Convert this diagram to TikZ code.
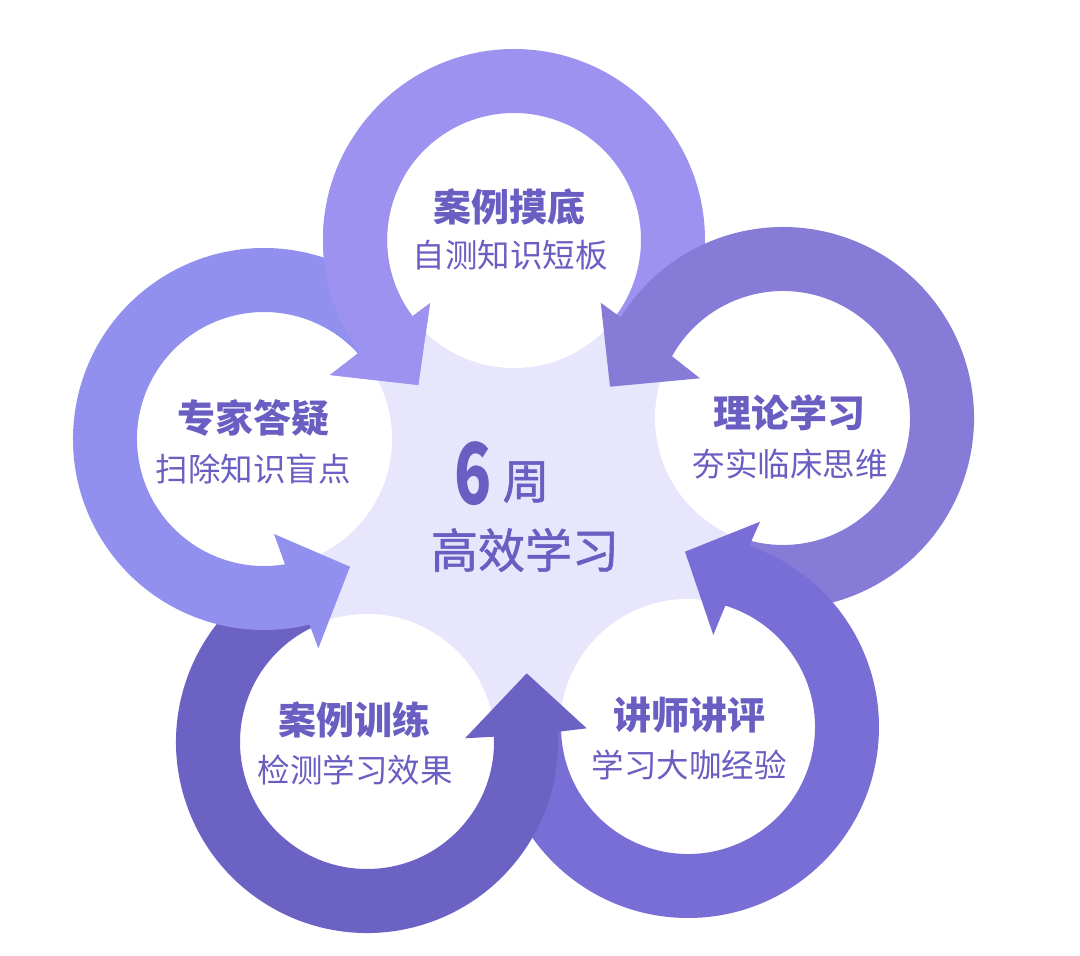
\documentclass[tikz,border=0pt]{standalone}
\usepackage{fontspec}
\newfontfamily\cjk{Noto Sans CJK SC}
\newfontfamily\cjkmid[FakeBold=1.2]{Noto Sans CJK SC}
\definecolor{ringT}{HTML}{9D92EF}
\definecolor{ringR}{HTML}{867BD7}
\definecolor{ringBR}{HTML}{796ED6}
\definecolor{ringBL}{HTML}{6C62C4}
\definecolor{ringL}{HTML}{9290EE}
\definecolor{lav}{HTML}{E8E6FC}
\definecolor{txt}{HTML}{6A5EC2}
\tikzset{
  ttl/.style={font=\cjk\bfseries\fontsize{38}{42}\selectfont, text=txt, inner sep=0pt},
  subt/.style={font=\cjk\fontsize{32.5}{36}\selectfont, text=txt, inner sep=0pt},
  ctr/.style={font=\cjkmid\fontsize{47}{50}\selectfont, text=txt, inner sep=0pt},
  disk/.style={fill=white},
}
\begin{document}
\begin{tikzpicture}[x=1pt,y=1pt]
\useasboundingbox (0,0) rectangle (1080,-956);
\fill[white] (0,0) rectangle (1080,-956);
% centres
\coordinate (C) at (523,-513);
\coordinate (cT) at (514,-240);
\coordinate (cR) at (783,-418);
\coordinate (cBR) at (688,-727);
\coordinate (cBL) at (367,-742);
\coordinate (cL) at (264,-439);
% central lavender field
\fill[lav] (C) circle (250);
% white disks
\foreach \c in {cT,cR,cBR,cBL,cL} \fill[disk] (\c) circle (128);
% head points
\coordinate (Tob) at (330,-375);   \coordinate (Ttp) at (418.3,-385);  \coordinate (Tib) at (430,-303.3);
\coordinate (Rob) at (600.7,-302.7); \coordinate (Rtp) at (610,-386.7); \coordinate (Rib) at (700,-378.3);
\coordinate (BRob) at (760,-521.7); \coordinate (BRtp) at (685,-551.7); \coordinate (BRib) at (713.3,-635);
\coordinate (BLob) at (586.7,-728.3); \coordinate (BLtp) at (526.7,-673.3); \coordinate (BLib) at (465,-738.3);
\coordinate (Lob) at (318.3,-648.3); \coordinate (Ltp) at (350,-566.7); \coordinate (Lib) at (274,-534);
% top ring
\fill[ringT] ([shift={(-38:191)}]cT) arc[start angle=-38, end angle=216.0, radius=191]
  -- (Tob) -- (Ttp) -- (Tib) -- ([shift={(216.9:127)}]cT)
  arc[start angle=216.9, end angle=-38, radius=127] -- cycle;
% right ring
\fill[ringR] ([shift={(-110:191)}]cR) arc[start angle=-110, end angle=148.2, radius=191]
  -- (Rob) -- (Rtp) -- (Rib) -- ([shift={(150.9:127)}]cR)
  arc[start angle=150.9, end angle=-110, radius=127] -- cycle;
% bottom right ring
\fill[ringBR] ([shift={(177.6:191)}]cBR) arc[start angle=177.6, end angle=431.35, radius=191]
  -- (BRob) -- (BRtp) -- (BRib) -- ([shift={(432.9:127)}]cBR)
  arc[start angle=432.9, end angle=177.6, radius=127] -- cycle;
% bottom left ring
\fill[ringBL] ([shift={(112:191)}]cBL) arc[start angle=112, end angle=363.05, radius=191]
  -- (BLob) -- (BLtp) -- (BLib) -- ([shift={(362.4:127)}]cBL)
  arc[start angle=362.4, end angle=112, radius=127] -- cycle;
% left ring
\fill[ringL] ([shift={(34:191)}]cL) arc[start angle=34, end angle=283.8, radius=191]
  -- (Lob) -- (Ltp) -- (Lib) -- ([shift={(279.5:127)}]cL)
  arc[start angle=279.5, end angle=34, radius=127] -- cycle;
% top ring end again (in front of left ring)
\fill[ringT] ([shift={(150:191)}]cT) arc[start angle=150, end angle=216.0, radius=191]
  -- (Tob) -- (Ttp) -- (Tib) -- ([shift={(216.9:127)}]cT)
  arc[start angle=216.9, end angle=150, radius=127] -- cycle;
% texts
\node[ttl] (tT) at (509,-207) {案例摸底};
\node[subt] (sT) at (510,-255) {自测知识短板};
\node[ttl] (tR) at (789,-413) {理论学习};
\node[subt] (sR) at (790,-464) {夯实临床思维};
\node[ttl] (tL) at (253,-418) {专家答疑};
\node[subt] (sL) at (253,-469) {扫除知识盲点};
\node[ttl] (tBL) at (354,-720) {案例训练};
\node[subt] (sBL) at (355,-770) {检测学习效果};
\node[ttl] (tBR) at (689,-715) {讲师讲评};
\node[subt] (sBR) at (689,-765) {学习大咖经验};
\node[font=\cjk\bfseries\fontsize{85}{88}\selectfont, text=txt, inner sep=0pt] (six) at (473,-474) {\scalebox{0.72}[1]{6}};
\node[ctr] (zhou) at (526,-482) {周};
\node[ctr] (gx) at (525,-550) {高效学习};
\end{tikzpicture}
\end{document}
